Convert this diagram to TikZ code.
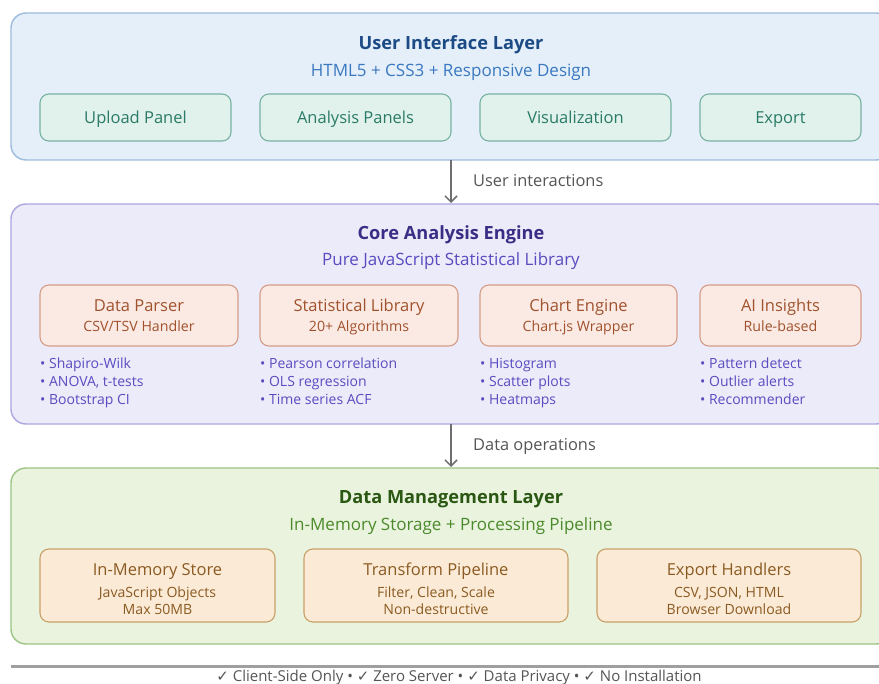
\documentclass[tikz,border=0pt]{standalone}
\usepackage{fontspec}
\setmainfont{Open Sans}
\newfontfamily\symfont{DejaVu Sans}
\usetikzlibrary{arrows.meta}
\definecolor{uiFill}{HTML}{E5EFFA}
\definecolor{uiLine}{HTML}{9DBBDD}
\definecolor{uiTitle}{HTML}{1C4A85}
\definecolor{uiSub}{HTML}{3A78C0}
\definecolor{uiBoxFill}{HTML}{E0F2EB}
\definecolor{uiBoxLine}{HTML}{77B3A1}
\definecolor{uiBoxText}{HTML}{2A7A66}
\definecolor{coFill}{HTML}{ECEBFA}
\definecolor{coLine}{HTML}{ACA6E0}
\definecolor{coTitle}{HTML}{3B2C86}
\definecolor{coSub}{HTML}{5A4BC0}
\definecolor{coBoxFill}{HTML}{FBEAE4}
\definecolor{coBoxLine}{HTML}{D59D88}
\definecolor{coBoxText}{HTML}{A0522D}
\definecolor{dmFill}{HTML}{E9F3DE}
\definecolor{dmLine}{HTML}{9CC582}
\definecolor{dmTitle}{HTML}{2A5712}
\definecolor{dmSub}{HTML}{4B8A2A}
\definecolor{dmBoxFill}{HTML}{FBEBD6}
\definecolor{dmBoxLine}{HTML}{C8A06A}
\definecolor{dmBoxText}{HTML}{8B5A22}
\definecolor{arrowGray}{HTML}{6E6E6E}
\definecolor{labelGray}{HTML}{555555}
\tikzset{
  x=1pt, y=-1pt,
  layer/.style={rounded corners=15pt, line width=1.4pt},
  ibox/.style={rounded corners=9pt, line width=1.1pt},
  ltitle/.style={font=\bfseries\fontsize{18.2}{20}\selectfont, anchor=base, inner sep=0pt},
  lsub/.style={font=\fontsize{17}{20}\selectfont, anchor=base, inner sep=0pt},
  btitle/.style={font=\fontsize{16.5}{19}\selectfont, anchor=base, inner sep=0pt},
  bsub/.style={font=\fontsize{14.2}{17}\selectfont, anchor=base, inner sep=0pt},
  bsmall/.style={font=\fontsize{14.1}{16}\selectfont, anchor=base, inner sep=0pt},
  bullet/.style={font=\fontsize{14}{17}\selectfont, anchor=base west, text=coSub, inner sep=0pt},
  flow/.style={draw=arrowGray, line width=1.5pt, -{Straight Barb[length=6pt,width=12pt]}},
  flowlabel/.style={font=\fontsize{16.4}{18}\selectfont, text=labelGray, anchor=base west, inner sep=0pt},
}
\begin{document}
\begin{tikzpicture}
\useasboundingbox (0,0) rectangle (879,684);
\clip (0,0) rectangle (879,684);
\fill[white] (0,0) rectangle (879,684);
% ---------- UI layer
\draw[layer, fill=uiFill, draw=uiLine] (11,13) rectangle (891,160);
\node[ltitle, text=uiTitle] (uiT) at (451,50) {User Interface Layer};
\node[lsub, text=uiSub] (uiS) at (451,77) {HTML5 + CSS3 + Responsive Design};
\foreach \n/\a/\b/\t in {up/40/231/Upload Panel, an/260/451/Analysis Panels, vi/480/671/Visualization, ex/700/861/Export}{
  \draw[ibox, fill=uiBoxFill, draw=uiBoxLine] (\a,94) rectangle (\b,141);
  \node[btitle, text=uiBoxText] (\n) at ({(\a+\b)/2},124) {\t};
}
% ---------- Core layer
\draw[layer, fill=coFill, draw=coLine] (11,204) rectangle (891,424);
\node[ltitle, text=coTitle] (coT) at (451,239.5) {Core Analysis Engine};
\node[lsub, text=coSub] (coS) at (451,266) {Pure JavaScript Statistical Library};
\foreach \n/\a/\b/\t/\s in {dp/40/238/Data Parser/CSV\slash TSV Handler, sl/260/458/Statistical Library/20+ Algorithms, ce/480/677/Chart Engine/Chart.js Wrapper, ai/700/861/AI Insights/Rule-based}{
  \draw[ibox, fill=coBoxFill, draw=coBoxLine] (\a,285) rectangle (\b,346);
  \node[btitle, text=coBoxText] (\n) at ({(\a+\b)/2},312) {\t};
  \node[bsub, text=coBoxText] (\n s) at ({(\a+\b)/2},332) {\s};
}
\foreach \x/\p/\q/\r [count=\i] in {40/Shapiro-Wilk/{ANOVA, t-tests}/Bootstrap CI, 260/Pearson correlation/OLS regression/Time series ACF, 480/Histogram/Scatter plots/Heatmaps, 700/Pattern detect/Outlier alerts/Recommender}{
  \node[bullet] (b\i a) at (\x,369) {• \p};
  \node[bullet] (b\i b) at (\x,387) {• \q};
  \node[bullet] (b\i c) at (\x,405) {• \r};
}
% ---------- Data layer
\draw[layer, fill=dmFill, draw=dmLine] (11,468) rectangle (891,644);
\node[ltitle, text=dmTitle] (dmT) at (451,503.5) {Data Management Layer};
\node[lsub, text=dmSub] (dmS) at (451,530.5) {In-Memory Storage + Processing Pipeline};
\foreach \n/\a/\b/\t/\s/\u in {ms/40/275/In-Memory Store/JavaScript Objects/Max 50MB, tp/304/568/Transform Pipeline/{Filter, Clean, Scale}/Non-destructive, eh/597/861/Export Handlers/{CSV, JSON, HTML}/Browser Download}{
  \draw[ibox, fill=dmBoxFill, draw=dmBoxLine] (\a,549) rectangle (\b,622);
  \node[btitle, text=dmBoxText] (\n) at ({(\a+\b)/2},576) {\t};
  \node[bsmall, text=dmBoxText] (\n a) at ({(\a+\b)/2},597.5) {\s};
  \node[bsmall, text=dmBoxText] (\n b) at ({(\a+\b)/2},615) {\u};
}
% ---------- arrows
\coordinate (a1s) at (451,160);
\coordinate (a1e) at (451,203);
\coordinate (a2s) at (451,424);
\coordinate (a2e) at (451,467);
\draw[flow] (a1s) -- (a1e);
\draw[flow] (a2s) -- (a2e);
\node[flowlabel] (l1) at (473,186.5) {User interactions};
\node[flowlabel] (l2) at (473,450.5) {Data operations};
% ---------- footer
\coordinate (fl) at (11,666.5);
\coordinate (fr) at (879,666.5);
\draw[line width=2.5pt, draw=gray!75] (fl) -- (fr);
\node[font=\fontsize{15}{17}\selectfont, text=labelGray, anchor=base, inner sep=0pt] (foot) at (459,681.5) {{\symfont ✓} Client-Side Only • {\symfont ✓} Zero Server • {\symfont ✓} Data Privacy • {\symfont ✓} No Installation};
\end{tikzpicture}
\end{document}
